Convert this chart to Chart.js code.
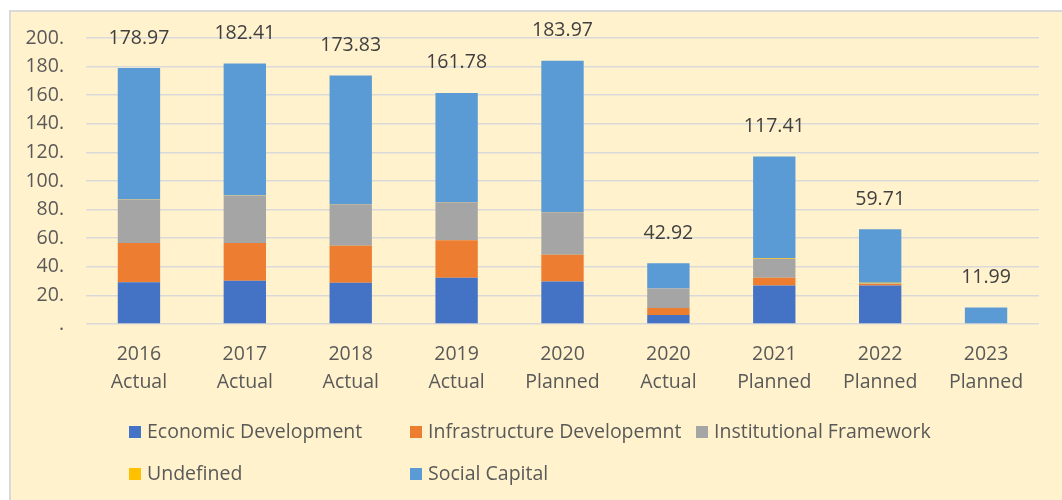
<!DOCTYPE html>
<html>
<head>
<meta charset="utf-8">
<script src="https://cdn.jsdelivr.net/npm/chart.js@4"></script>
<style>
  html, body { margin: 0; padding: 0; background: #ffffff; }
  #wrap { width: 1062px; height: 500px; position: relative; }
</style>
</head>
<body>
<div id="wrap"><canvas id="grafico"></canvas></div>
<script>
// categorias y valores
var categorias = [
    ['2016', 'Actual'], ['2017', 'Actual'], ['2018', 'Actual'], ['2019', 'Actual'],
    ['2020', 'Planned'], ['2020', 'Actual'], ['2021', 'Planned'], ['2022', 'Planned'], ['2023', 'Planned']
];
var economic = [29.2, 30.2, 28.8, 32.3, 29.7, 6.3, 26.9, 26.9, 0];
var infraestructura = [27.4, 26.4, 25.9, 26.2, 18.7, 4.9, 5.4, 1.0, 0];
var institucional = [30.4, 33.2, 29.0, 26.6, 29.7, 13.6, 13.3, 0.5, 0];
var indefinido = [0.3, 0.3, 0.2, 0.2, 0.2, 0.1, 0.5, 0.4, 0];
var social = [91.7, 92.0, 89.8, 76.3, 105.8, 17.5, 71.0, 37.5, 11.5];
var totales = ['178.97', '182.41', '173.83', '161.78', '183.97', '42.92', '117.41', '59.71', '11.99'];
var etiquetasY = ['.', '20.', '40.', '60.', '80.', '100.', '120.', '140.', '160.', '180.', '200.'];

var series = [
    { label: 'Economic Development', data: economic, color: '#4472C4' },
    { label: 'Infrastructure Developemnt', data: infraestructura, color: '#ED7D31' },
    { label: 'Institutional Framework', data: institucional, color: '#A5A5A5' },
    { label: 'Undefined', data: indefinido, color: '#FFC000' },
    { label: 'Social Capital', data: social, color: '#5B9BD5' }
];

var fuente = '"Open Sans", sans-serif';

// fondo crema con borde gris
var fondo = {
    id: 'fondo',
    beforeDraw: function (chart) {
        var ctx = chart.ctx;
        ctx.save();
        ctx.fillStyle = '#ffffff';
        ctx.fillRect(0, 0, chart.width, chart.height);
        ctx.fillStyle = '#FFF2CC';
        ctx.fillRect(10, 11, chart.width, chart.height);
        ctx.strokeStyle = '#D9D9D9';
        ctx.lineWidth = 2;
        ctx.strokeRect(10, 11, chart.width + 10, chart.height + 10);
        ctx.restore();
    }
};

// totales encima de cada barra
var totalesPlugin = {
    id: 'totales',
    afterDatasetsDraw: function (chart) {
        var ctx = chart.ctx;
        var y = chart.scales.y;
        var meta = chart.getDatasetMeta(0);
        ctx.save();
        ctx.font = '19.5px ' + fuente;
        ctx.fillStyle = '#404040';
        ctx.textAlign = 'center';
        ctx.textBaseline = 'middle';
        for (var i = 0; i < categorias.length; i++) {
            var suma = 0;
            for (var s = 0; s < series.length; s++) suma += series[s].data[i];
            ctx.fillText(totales[i], meta.data[i].x, y.getPixelForValue(suma) - 30);
        }
        ctx.restore();
    }
};

// leyenda en columnas como la original
var leyenda = {
    id: 'leyenda',
    afterDraw: function (chart) {
        var ctx = chart.ctx;
        var columnas = [129, 410, 696];
        var filas = [432, 474];
        ctx.save();
        ctx.font = '19.5px ' + fuente;
        ctx.textBaseline = 'middle';
        for (var i = 0; i < series.length; i++) {
            var x = columnas[i % 3];
            var yy = filas[Math.floor(i / 3)];
            ctx.fillStyle = series[i].color;
            ctx.fillRect(x, yy - 6, 12, 12);
            ctx.fillStyle = '#595959';
            ctx.fillText(series[i].label, x + 18, yy);
        }
        ctx.restore();
    }
};

var grafico = new Chart(document.getElementById('grafico'), {
    type: 'bar',
    data: {
        labels: categorias,
        datasets: series.map(function (s) {
            return {
                label: s.label,
                data: s.data,
                backgroundColor: s.color,
                borderWidth: 0,
                barPercentage: 0.4,
                categoryPercentage: 1
            };
        })
    },
    options: {
        responsive: true,
        maintainAspectRatio: false,
        animation: false,
        layout: { padding: { left: 10, right: 23, top: 38, bottom: 96 } },
        plugins: {
            legend: { display: false },
            tooltip: { enabled: false }
        },
        scales: {
            x: {
                stacked: true,
                grid: { display: false },
                border: { display: false },
                ticks: {
                    color: '#595959',
                    font: { family: fuente, size: 19.5, lineHeight: 1.45 },
                    padding: 8,
                    maxRotation: 0
                },
                afterFit: function (s) { s.height = 80; }
            },
            y: {
                stacked: true,
                min: 0,
                max: 200,
                border: { display: false },
                grid: { color: '#D9D9D9', lineWidth: 1.6, drawTicks: false },
                ticks: {
                    stepSize: 20,
                    color: '#595959',
                    font: { family: fuente, size: 19.5 },
                    padding: 22,
                    callback: function (v, i) { return etiquetasY[i]; }
                },
                afterFit: function (s) { s.width = 76; }
            }
        }
    },
    plugins: [fondo, totalesPlugin, leyenda]
});
</script>
</body>
</html>
